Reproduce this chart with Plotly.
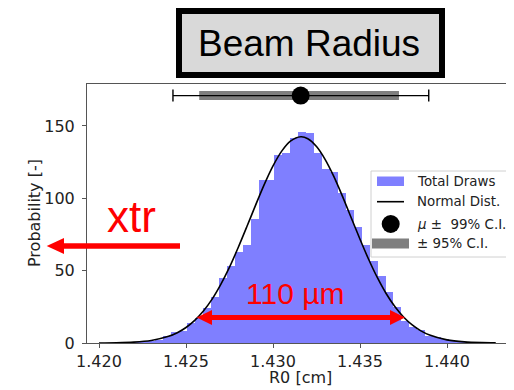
import numpy as np
import plotly.graph_objects as go

# ---------------- data ----------------
bin_start = 1.42005
bin_width = 0.000456
hist_vals = [0, 0, 0.1, 0.3, 0.6, 1.1, 1.5, 2.2, 4.5, 7.8,
             8.2, 14, 17, 24, 32, 45, 53, 63, 68, 86,
             113, 113, 130, 131, 142, 146, 145, 131, 120, 118,
             104, 92, 80, 68, 57, 46, 35, 25, 15, 11,
             9, 5, 4, 2.5, 1.5, 0.8, 0.4, 0.2, 0.1, 0.1]

norm_x = [1.4200, 1.4210, 1.4220, 1.4230, 1.4240, 1.4245, 1.4250, 1.4255, 1.4260, 1.4265,
          1.4270, 1.4275, 1.4280, 1.4285, 1.4290, 1.4295, 1.4300, 1.4305, 1.4310, 1.4316,
          1.4320, 1.4325, 1.4330, 1.4335, 1.4340, 1.4345, 1.4350, 1.4355, 1.4360, 1.4365,
          1.4370, 1.4375, 1.4380, 1.4385, 1.4390, 1.4400, 1.4410, 1.4420, 1.4428]
norm_y = [0.05, 0.18, 0.6, 1.75, 4.6, 7.1, 10.7, 15.6, 22.1, 30.3,
          40.5, 52.4, 66.0, 80.5, 95.3, 109.6, 122.4, 132.6, 139.5, 142.5,
          141.2, 135.8, 126.8, 115.0, 101.2, 86.4, 71.7, 57.7, 45.1, 34.2,
          25.2, 18.0, 12.5, 8.4, 5.5, 2.15, 0.75, 0.23, 0.08]

mu = 1.43159
ci99 = [1.42425, 1.43895]
ci95 = [1.42576, 1.43724]
ci_level = 171

x_ticks = [1.420, 1.425, 1.430, 1.435, 1.440]
y_ticks = [0, 50, 100, 150]
x_range = [1.41931, 1.44385]
y_range = [0, 179]

title_text = "Beam Radius"
xlabel = "R0 [cm]"
ylabel = "Probability [-]"
legend_labels = ["Total Draws", "Normal Dist.", "<i>μ</i> ±  99% C.I.", "± 95% C.I."]

# ---------------- figure geometry ----------------
# page body has an 8px default margin -> compensate
OFF = 8
W, H = 514 - OFF, 390 - OFF
L, R, T, B = 87, 514, 84, 343  # plot area in window pixels


def xp(px):
    return (px - L) / (R - L)


def yp(py):
    return (B - py) / (B - T)


centers = bin_start + bin_width * (np.arange(len(hist_vals)) + 0.5)

fig = go.Figure()
fig.add_trace(go.Bar(x=centers, y=hist_vals, width=bin_width,
                     marker=dict(color="rgba(0,0,255,0.5)", line=dict(width=0)),
                     showlegend=False))
fig.add_trace(go.Scatter(x=norm_x, y=norm_y, mode="lines",
                         line=dict(color="black", width=1.6, shape="spline", smoothing=0.8),
                         showlegend=False))
# 95% CI thick gray bar
fig.add_trace(go.Scatter(x=ci95, y=[ci_level, ci_level], mode="lines",
                         line=dict(color="#7f7f7f", width=9), showlegend=False))
# 99% CI error bar
fig.add_trace(go.Scatter(x=[mu], y=[ci_level], mode="markers",
                         marker=dict(size=1, color="rgba(0,0,0,0)"),
                         error_x=dict(type="data", symmetric=False,
                                      array=[ci99[1] - mu], arrayminus=[mu - ci99[0]],
                                      color="black", thickness=1.4, width=6),
                         showlegend=False))
fig.add_trace(go.Scatter(x=[mu], y=[ci_level], mode="markers",
                         marker=dict(size=18, color="black"), showlegend=False))

tickfont = dict(family="DejaVu Sans", size=16, color="#222")
fig.update_layout(
    width=W, height=H,
    margin=dict(l=L - OFF, r=0, t=T - OFF, b=H - (B - OFF), autoexpand=False),
    paper_bgcolor="white", plot_bgcolor="white",
    bargap=0,
    xaxis=dict(range=x_range, tickvals=x_ticks, tickformat=".3f", automargin=False,
               showgrid=False, zeroline=False, showline=True, linecolor="#555",
               linewidth=1, mirror=True, ticks="outside", ticklen=4, tickcolor="#555",
               tickfont=tickfont),
    yaxis=dict(range=y_range, tickvals=y_ticks, showgrid=False, zeroline=False,
               automargin=False,
               showline=True, linecolor="#555", linewidth=1, ticks="outside",
               ticklen=4, tickcolor="#555", tickfont=tickfont, ticklabelstandoff=4),
)

shapes = []
annos = []

# Title box
shapes.append(dict(type="rect", xref="paper", yref="paper",
                   x0=xp(179), x1=xp(442), y0=yp(75), y1=yp(11),
                   line=dict(color="black", width=6), fillcolor="#d9d9d9", layer="above"))
annos.append(dict(text=title_text, xref="paper", yref="paper", x=xp(309), y=yp(43.5),
                  xanchor="center", yanchor="middle", showarrow=False,
                  font=dict(family="Liberation Sans, Arial", size=37, color="black")))

# Axis titles
annos.append(dict(text=xlabel, xref="paper", yref="paper", x=xp(300), y=yp(377),
                  xanchor="center", yanchor="middle", showarrow=False,
                  font=dict(family="DejaVu Sans", size=16, color="#222")))
annos.append(dict(text=ylabel, xref="paper", yref="paper", x=xp(34), y=yp(213),
                  xanchor="center", yanchor="middle", showarrow=False, textangle=-90,
                  font=dict(family="DejaVu Sans", size=16, color="#222")))

# Custom legend
shapes.append(dict(type="rect", xref="paper", yref="paper",
                   x0=xp(371), x1=xp(508), y0=yp(257), y1=yp(171),
                   line=dict(color="#d0d0d0", width=1), fillcolor="rgba(255,255,255,0.85)",
                   layer="above"))
shapes.append(dict(type="rect", xref="paper", yref="paper",
                   x0=xp(377), x1=xp(404), y0=yp(186), y1=yp(176.5),
                   line=dict(width=0), fillcolor="rgba(0,0,255,0.5)", layer="above"))
shapes.append(dict(type="line", xref="paper", yref="paper",
                   x0=xp(377), x1=xp(404), y0=yp(201.7), y1=yp(201.7),
                   line=dict(color="black", width=1.6), layer="above"))
shapes.append(dict(type="circle", xref="paper", yref="paper",
                   x0=xp(381.7), x1=xp(399.7), y0=yp(233), y1=yp(215),
                   line=dict(width=0), fillcolor="black", layer="above"))
shapes.append(dict(type="rect", xref="paper", yref="paper",
                   x0=xp(372), x1=xp(409), y0=yp(248.5), y1=yp(238.5),
                   line=dict(width=0), fillcolor="#7f7f7f", layer="above"))
for lbl, cy in zip(legend_labels, [181.5, 201.7, 224, 243.5]):
    annos.append(dict(text=lbl, xref="paper", yref="paper", x=xp(415), y=yp(cy),
                      xanchor="left", yanchor="middle", showarrow=False,
                      font=dict(family="DejaVu Sans", size=13.4, color="#222")))

# Red arrows
red = "#ff0000"
# xtr arrow (pointing left)
shapes.append(dict(type="line", xref="paper", yref="paper",
                   x0=xp(180), x1=xp(60), y0=yp(246), y1=yp(246),
                   line=dict(color=red, width=5.5), layer="above"))
shapes.append(dict(type="path", xref="paper", yref="paper",
                   path=f"M {xp(46.7)} {yp(246)} L {xp(64)} {yp(238)} L {xp(64)} {yp(254)} Z",
                   line=dict(width=0), fillcolor=red, layer="above"))
annos.append(dict(text="xtr", xref="paper", yref="paper", x=xp(131), y=yp(216),
                  xanchor="center", yanchor="middle", showarrow=False,
                  font=dict(family="Liberation Sans, Arial", size=44, color=red)))
# double arrow
shapes.append(dict(type="line", xref="paper", yref="paper",
                   x0=xp(208), x1=xp(394), y0=yp(317.5), y1=yp(317.5),
                   line=dict(color=red, width=5), layer="above"))
shapes.append(dict(type="path", xref="paper", yref="paper",
                   path=f"M {xp(196.7)} {yp(317.5)} L {xp(212)} {yp(310)} L {xp(212)} {yp(325)} Z",
                   line=dict(width=0), fillcolor=red, layer="above"))
shapes.append(dict(type="path", xref="paper", yref="paper",
                   path=f"M {xp(405)} {yp(317.5)} L {xp(390)} {yp(310)} L {xp(390)} {yp(325)} Z",
                   line=dict(width=0), fillcolor=red, layer="above"))
annos.append(dict(text="110 µm", xref="paper", yref="paper", x=xp(295), y=yp(293),
                  xanchor="center", yanchor="middle", showarrow=False,
                  font=dict(family="Liberation Sans, Arial", size=30, color=red)))

fig.update_layout(shapes=shapes, annotations=annos)
fig.write_html("out.html")
